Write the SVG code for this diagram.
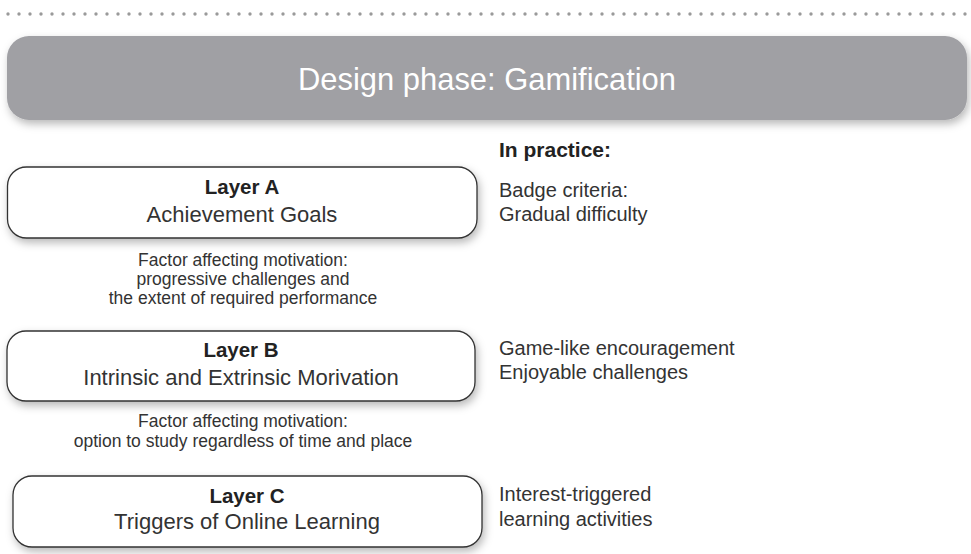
<svg xmlns="http://www.w3.org/2000/svg" width="971" height="554" viewBox="0 0 971 554">
<defs>
<filter id="sh" x="-10%" y="-30%" width="120%" height="170%">
<feDropShadow dx="2" dy="4" stdDeviation="4" flood-color="#000" flood-opacity="0.28"/>
</filter>
<style>
.box{fill:#fff;stroke:#333;stroke-width:1.3;filter:url(#sh)}
.ttl{font-family:"Liberation Sans",Arial,sans-serif;font-weight:bold;font-size:20.5px;fill:#222;text-anchor:middle}
.sub{font-family:"Liberation Sans",Arial,sans-serif;font-size:22px;fill:#333;text-anchor:middle}
.fac{font-family:"Liberation Sans",Arial,sans-serif;font-size:17.5px;fill:#333;text-anchor:middle}
.pr{font-family:"Liberation Sans",Arial,sans-serif;font-size:20px;fill:#333}
.prh{font-family:"Liberation Sans",Arial,sans-serif;font-size:21px;font-weight:bold;fill:#222}
</style>
</defs>
<rect width="971" height="554" fill="#fff"/>
<line x1="8" y1="14" x2="966" y2="14" stroke="#9a9a9a" stroke-width="3.4" stroke-linecap="round" stroke-dasharray="0 11"/>
<g id="header">
<rect x="7" y="36" width="960" height="84" rx="22" fill="#a0a0a4" filter="url(#sh)"/>
<text x="487" y="90" font-family="'Liberation Sans',Arial,sans-serif" font-size="32" fill="#fff" text-anchor="middle" textLength="378" lengthAdjust="spacingAndGlyphs">Design phase: Gamification</text>
</g>
<g id="layerA">
<rect class="box" x="7.5" y="167" width="469.5" height="71" rx="19"/>
<text class="ttl" x="242" y="194">Layer A</text>
<text class="sub" x="242" y="222">Achievement Goals</text>
</g>
<g id="factorA">
<text class="fac" x="243" y="266">Factor affecting motivation:</text>
<text class="fac" x="243" y="285">progressive challenges and</text>
<text class="fac" x="243" y="304">the extent of required performance</text>
</g>
<g id="layerB">
<rect class="box" x="7" y="331" width="468" height="70" rx="19"/>
<text class="ttl" x="241" y="357">Layer B</text>
<text class="sub" x="241" y="385">Intrinsic and Extrinsic Morivation</text>
</g>
<g id="factorB">
<text class="fac" x="243" y="427">Factor affecting motivation:</text>
<text class="fac" x="243" y="446.5">option to study regardless of time and place</text>
</g>
<g id="layerC">
<rect class="box" x="13" y="476" width="469" height="71" rx="19"/>
<text class="ttl" x="247" y="503">Layer C</text>
<text class="sub" x="247" y="529">Triggers of Online Learning</text>
</g>
<g id="practice">
<text class="prh" x="499" y="157">In practice:</text>
<text class="pr" x="499" y="197">Badge criteria:</text>
<text class="pr" x="499" y="221">Gradual difficulty</text>
<text class="pr" x="499" y="355">Game-like encouragement</text>
<text class="pr" x="499" y="379">Enjoyable challenges</text>
<text class="pr" x="499" y="501">Interest-triggered</text>
<text class="pr" x="499" y="526">learning activities</text>
</g>
<g id="connectors"></g>
</svg>
